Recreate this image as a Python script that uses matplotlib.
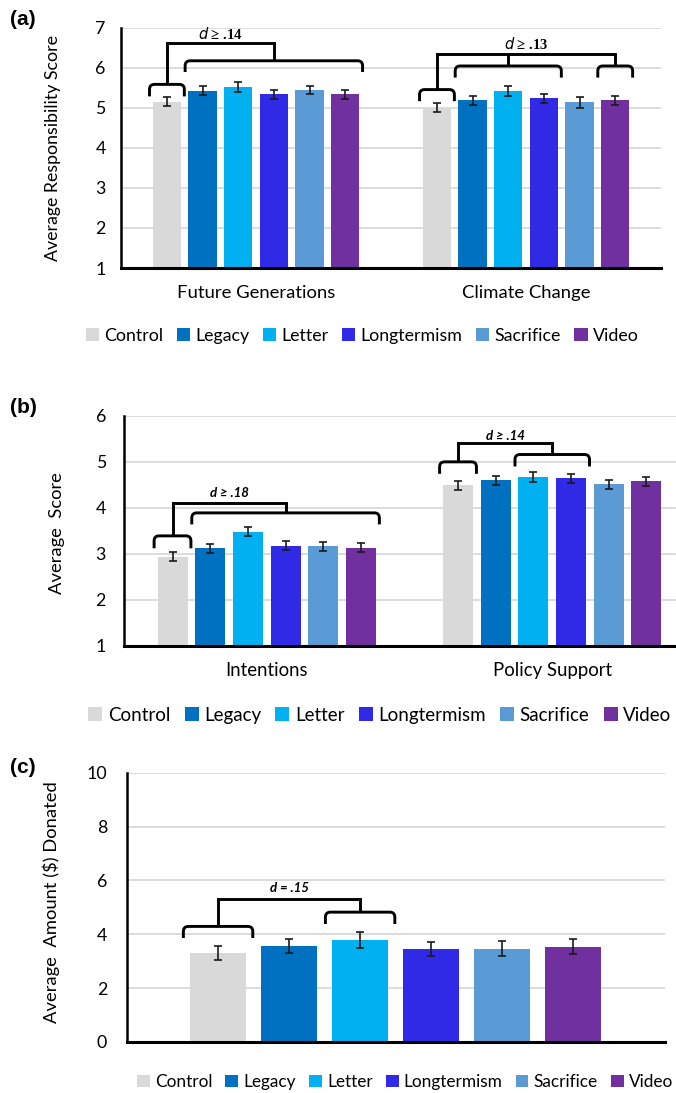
import matplotlib
matplotlib.use("Agg")
import matplotlib.pyplot as plt
from matplotlib.path import Path
from matplotlib.patches import PathPatch, Patch

# ---------------- data ----------------
conditions = ["Control", "Legacy", "Letter", "Longtermism", "Sacrifice", "Video"]
colors = ["#D9D9D9", "#0070C0", "#00B0F0", "#302AE6", "#5B9BD5", "#7030A0"]

resp_categories = ["Future Generations", "Climate Change"]
resp_future = [5.16, 5.43, 5.52, 5.34, 5.45, 5.34]
resp_climate = [5.01, 5.19, 5.42, 5.24, 5.14, 5.19]
resp_future_err = [0.11, 0.11, 0.12, 0.11, 0.11, 0.11]
resp_climate_err = [0.12, 0.12, 0.13, 0.12, 0.13, 0.12]

behav_categories = ["Intentions", "Policy Support"]
intentions = [2.94, 3.12, 3.48, 3.18, 3.16, 3.13]
policy = [4.49, 4.60, 4.67, 4.64, 4.51, 4.58]
intentions_err = [0.09, 0.10, 0.10, 0.09, 0.095, 0.095]
policy_err = [0.10, 0.095, 0.10, 0.095, 0.10, 0.095]

donation_categories = [""]
donated = [3.31, 3.57, 3.79, 3.46, 3.46, 3.54]
donated_err = [0.26, 0.27, 0.31, 0.26, 0.28, 0.27]

# effect-size annotations: (category, [(first bar, last bar, top, leg)], bar_y, text_y, text)
resp_notes = [
    (0, [(0, 0, 5.59, 5.29), (1, 5, 6.18, 5.90)], 6.63, 6.86, r"$d$ ≥ .14"),
    (1, [(0, 0, 5.46, 5.17), (1, 3, 6.05, 5.76), (5, 5, 6.05, 5.76)], 6.34, 6.60, r"$d$ ≥ .13"),
]
behav_notes = [
    (0, [(0, 0, 3.39, 3.12), (1, 5, 3.89, 3.64)], 4.11, 4.32, "d ≥ .18"),
    (1, [(0, 0, 5.00, 4.74), (2, 3, 5.16, 4.90)], 5.41, 5.57, "d ≥ .14"),
]
donation_notes = [
    (0, [(0, 0, 4.29, 3.86), (2, 2, 4.82, 4.38)], 5.30, 5.71, "d = .15"),
]

FIG_W, FIG_H = 676, 1093
BAR_W = 0.105
STEP = 0.132
SANS = ["Lato", "DejaVu Sans"]

plt.rcParams["font.family"] = SANS

fig = plt.figure(figsize=(FIG_W / 100, FIG_H / 100), dpi=100)


def bar_x(cat, j):
    return cat + (j - 2.5) * STEP


def bracket(ax, x0, x1, ytop, yleg, rx, ry):
    verts = [(x0, yleg), (x0, ytop - ry), (x0, ytop), (x0 + rx, ytop),
             (x1 - rx, ytop), (x1, ytop), (x1, ytop - ry), (x1, yleg)]
    codes = [Path.MOVETO, Path.LINETO, Path.CURVE3, Path.CURVE3,
             Path.LINETO, Path.CURVE3, Path.CURVE3, Path.LINETO]
    ax.add_patch(PathPatch(Path(verts, codes), fill=False, lw=2.1,
                           edgecolor="black", capstyle="butt", joinstyle="round",
                           zorder=5))


def panel(rect, cats, series, errs, ylim, yticks, ylabel, ylab_pos, tick_pad,
          notes, note_font, note_size, cat_size, ylab_size):
    ax = fig.add_axes(rect)
    n = len(cats)
    for j, cond in enumerate(conditions):
        xs = [bar_x(c, j) for c in range(n)]
        vals = [series[c][j] for c in range(n)]
        es = [errs[c][j] for c in range(n)]
        ax.bar(xs, [v - ylim[0] for v in vals], bottom=ylim[0], width=BAR_W,
               color=colors[j], zorder=3, label=cond)
        ax.errorbar(xs, vals, yerr=es, fmt="none", ecolor="#1a1a1a",
                    elinewidth=1.2, capsize=3.2, capthick=1.2, zorder=4)
    ax.set_xlim(-0.5, n - 0.5)
    ax.set_ylim(*ylim)
    ax.set_yticks(yticks)
    ax.set_xticks(range(n))
    ax.set_xticklabels(cats, fontsize=cat_size)
    ax.tick_params(axis="both", length=0, colors="black")
    ax.tick_params(axis="y", pad=tick_pad, labelsize=12.8)
    ax.tick_params(axis="x", pad=12)
    ax.grid(axis="y", color="#D9D9D9", lw=1.3, zorder=0)
    for s in ["top", "right"]:
        ax.spines[s].set_visible(False)
    ax.spines["left"].set_linewidth(1.8)
    ax.spines["bottom"].set_linewidth(2.2)
    ax.spines["bottom"].set_zorder(6)
    ax.set_ylabel(ylabel, fontsize=ylab_size)
    ax.yaxis.set_label_coords(*ylab_pos)

    # convert a few pixels into data units for the rounded bracket corners
    ax_w_px = rect[2] * FIG_W
    ax_h_px = rect[3] * FIG_H
    rx = 5 * (n / ax_w_px)
    ry = 5 * ((ylim[1] - ylim[0]) / ax_h_px)
    pad = 0.012
    for cat, brs, ybar, ytext, txt in notes:
        stems = []
        for a, b, ytop, yleg in brs:
            x0 = bar_x(cat, a) - BAR_W / 2 - pad
            x1 = bar_x(cat, b) + BAR_W / 2 + pad
            bracket(ax, x0, x1, ytop, yleg, rx, ry)
            xc = (x0 + x1) / 2
            stems.append(xc)
            ax.plot([xc, xc], [ytop, ybar], color="black", lw=2.1,
                    solid_capstyle="butt", zorder=5)
        ax.plot([min(stems), max(stems)], [ybar, ybar], color="black", lw=2.1,
                solid_capstyle="projecting", zorder=5)
        ax.text((min(stems) + max(stems)) / 2, ytext, txt, ha="center",
                va="center", fontsize=note_size, family=note_font,
                fontweight="bold", fontstyle="italic" if note_font is SANS else "normal",
                zorder=6)
    return ax


ax_a = panel([0.179, 0.7548, 0.799, 0.2196], resp_categories,
             [resp_future, resp_climate], [resp_future_err, resp_climate_err],
             (1, 7), range(1, 8), "Average Responsibility Score",
             (-0.111, 0.5), 11, resp_notes, ["Liberation Serif", "DejaVu Serif"], 10.5,
             13.3, 12.8)

ax_b = panel([0.1834, 0.4092, 0.8447, 0.2103], behav_categories,
             [intentions, policy], [intentions_err, policy_err],
             (1, 6), range(1, 7), "Average  Score",
             (-0.1025, 0.49), 13, behav_notes, SANS, 9.5,
             13.4, 13.2)

ax_c = panel([0.1873, 0.0467, 0.7959, 0.2464], donation_categories,
             [donated], [donated_err],
             (0, 10), range(0, 11, 2), "Average  Amount ($) Donated",
             (-0.124, 0.52), 14, donation_notes, SANS, 9.5,
             13.0, 13.2)

handles = [Patch(facecolor=c, edgecolor="none") for c in colors]
for y, xc, fs in [(0.6926, 0.536, 12.8), (0.3458, 0.562, 13.5), (0.0101, 0.599, 12.4)]:
    fig.legend(handles, conditions, loc="center", bbox_to_anchor=(xc, y),
               ncol=6, frameon=False, fontsize=fs, handlelength=0.75,
               handleheight=0.75, handletextpad=0.3, columnspacing=0.75,
               borderaxespad=0, borderpad=0)

for lab, y in [("(a)", 0.982), ("(b)", 0.627), ("(c)", 0.298)]:
    fig.text(0.034, y, lab, ha="center", va="center", fontsize=15,
             fontweight="bold", family=["Liberation Sans", "DejaVu Sans"])

fig.savefig("out.png", dpi=100)
